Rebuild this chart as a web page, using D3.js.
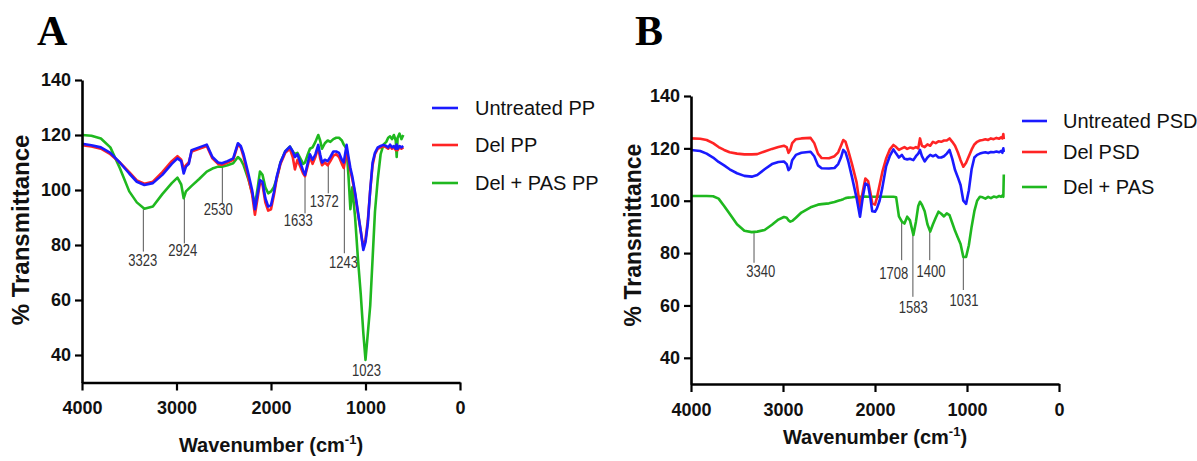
<!DOCTYPE html>
<html><head><meta charset="utf-8">
<script src="https://cdn.jsdelivr.net/npm/d3@7"></script>
<style>body{margin:0;background:#fff}svg{display:block}</style>
</head><body>
<svg id="c" width="1197" height="461"></svg>
<script>
// ---------- Panel A data ----------
const wnA = [4000,3900,3800,3700,3600,3500,3420,3340,3250,3150,
3050,2990,2950,2924,2900,2870,2840,2760,2680,2620,
2560,2520,2460,2400,2350,2320,2290,2240,2200,2170,
2140,2117,2090,2060,2030,2000,1970,1940,1900,1850,
1800,1770,1747,1720,1690,1660,1640,1610,1588,1560,
1530,1500,1480,1460,1430,1400,1372,1340,1310,1280,
1250,1230,1200,1180,1160,1140,1110,1080,1050,1023,
1000,975,950,925,900,870,840,810,780,760,
740,720,700,680,670,660,640,620,600];
const untreatedPP = [116.8,116.3,115.5,113.5,110,106,103,101.8,102.5,105.5,
109.5,111.5,110.5,106,108.5,109.5,114.5,115.5,116.5,112,
110,109.7,110.5,111.5,117,116,113,106,100,93,
99,103.6,103,97,94,94.5,99,104.8,110,114,
115.8,114,112,113,110,107,105.5,110,113,111,
113,116.4,113,110,111,110.5,112,114,114,113.5,
111,110,116.4,112,108,105,99,92,85,78.2,
81,88,100,110,113.5,115.5,116,116.4,116,115.5,
116.5,115.5,116,115,116.5,115,116,115.5,116];
const delPP = [116.3,115.8,115,113,110,106.5,103.5,102.3,103,106.5,
110.5,112.3,111,108,109,110,114,115,116,111.5,
109.5,109.2,110,111,116.5,115.5,112,104.5,98.5,91,
97.5,102.5,102,95.5,92.5,93,98,104,109.5,113.5,
115,112,107.5,111,108.5,106,105,109,112,109.5,
112,115.5,111.5,109,110,109,110.5,112.5,113,112,
109.5,108,114,111,107,104,98.5,91.5,85,79,
82,89,100,109,113,115,115.5,116,115.5,115,
116,115,115.5,114.5,116,114.5,115.5,115,115.5];
const delPasPP = [120,119.7,118.7,115.5,108,99.5,95.5,93.2,94,98.5,
102.5,104.5,102,97,99.5,100.5,101.5,104,106.7,107.8,
108.5,108.5,109,109.7,112,111,109,104,99,94.5,
101,106.7,105.5,101,98.8,99.5,101,104,110,114,
115.8,114,113,113.5,111.5,109.5,110,113,115,115.5,
117.5,120,118,115,117,118,117.5,118.5,119,119,
118,116.5,115,105,93,101,90,75,62,48,
38.2,48,58,75,92,104,113,116.5,117.5,119,
119.5,118.5,120,118,112,119,120.5,118.5,120];
const namesA = ["Untreated PP","Del PP","Del + PAS PP"];
// peak annotations A (wavenumber of leader, text position, values)
const annA_label = ["3323","2924","2530","1633","1372","1243","1023"];
const annA_wn = [3351,2917,2515,1640,1394,1224,null];
const annA_textWn = [3358,2934,2557,1711,1436,1234,990];
const annA_top = [93,97,108.5,105.5,109.3,108.5,null];
const annA_bottom = [77.6,80.6,95.1,91.5,98.8,77,null];
const annA_textVal = [74.5,78,93,89.1,95.8,73.9,34.5];

// ---------- Panel B data ----------
const wnB = [4000,3900,3830,3760,3700,3640,3580,3500,3420,3340,
3280,3200,3120,3050,2990,2960,2940,2920,2900,2860,
2800,2700,2660,2620,2580,2500,2440,2400,2370,2345,
2320,2290,2250,2200,2163,2130,2105,2075,2050,2030,
2000,1980,1950,1920,1880,1840,1800,1770,1740,1708,
1680,1650,1620,1583,1555,1530,1511,1490,1460,1430,
1400,1370,1340,1310,1280,1250,1220,1190,1160,1130,
1100,1070,1040,1010,980,950,920,890,860,830,
800,770,740,710,680,650,630,615,605,600];
const untreatedPSD = [119.4,119,118,116.5,114.8,113.5,112,110.5,109.5,109.2,
109.8,112,114,114.8,115,114,111.7,112.5,115.5,117.5,
118.3,118.7,117,113.5,112.4,112.3,112.5,114,116.5,119.4,
118.5,115,109,101,93.9,102,106.6,106,101,96,
95.8,97,100,105,113,117,119.6,118,116.5,117.5,
116,115.8,116,115.5,117,118,119.4,117,115,116.5,
117.5,117,117.5,116.5,116.5,117,118,119.4,116,111.7,
109,106,100,98.8,104,112,116.5,117.5,118,118.3,
118.5,118.2,118.6,118.5,118.8,118.5,119,118.3,120,118.6];
const delPSD = [123.8,123.7,123.2,122,120.5,119.4,118.5,118,117.7,117.7,
117.8,118.8,119.8,120.5,121,120.5,118.3,119.5,122,123.5,
123.8,124,122,118,116.3,116.2,117,118.5,121,123.2,
122.5,119,114,107,97.7,104,108.5,107.5,103,99,
98.5,101,106,111,116,119.5,121.3,120.5,119.4,120,
120.5,119.8,120.3,120,120.5,120,123.8,121,120.5,121.5,
121,122.5,122,122.7,122.5,123,123,123.8,122.5,121,
118.5,115.5,113,114.5,117,119.5,121.5,122.5,123,123.2,
123.5,123.2,123.8,123.5,124,123.7,124.2,123.8,125.5,123.5];
const delPasPSD = [101.8,101.8,101.8,101.7,100.8,98,95,91,88.5,88,
88.2,88.8,90.8,92.8,93.8,93.5,92.5,92,92.3,93.5,
95.5,97.5,98,98.5,98.7,99,99.5,100,100.3,100.6,
101,101.2,101.3,101.5,101.5,101.5,101.6,101.5,101.6,101.5,
101.5,101.5,101.6,101.5,101.5,101.5,101.5,101.3,94,92,
91.3,93.9,92.5,86.9,92,98,99.6,98.5,96,91,
88.2,91,93.5,95.8,95,94,95.2,94.5,91.5,88.5,
86,83.5,78.5,78.5,83,90,96,100,101.5,101.3,
100.8,101.5,101,101.6,101.3,101.8,101.5,102,101.5,110];
const namesB = ["Untreated PSD","Del PSD","Del + PAS"];
const annB_label = ["3340","1708","1583","1400","1031"];
const annB_wn = [3315,1710,1588,1405,1040];
const annB_textWn = [3243,1797,1583,1391,1033];
const annB_top = [88,92.5,86.9,88.2,78.3];
const annB_bottom = [76.3,77.3,63.3,77.3,65.9];
const annB_textVal = [72.9,72.2,59.5,72.9,62];

// ---------- shared ----------
const yTicks = [40,60,80,100,120,140];
const xTicks = [4000,3000,2000,1000,0];
const xDomain = [4000,0];
const yDomain = [30,140];
const colors = ["#1a1aff","#ff2424","#1fb81f"];

const sans = "'Liberation Sans', Arial, Helvetica, sans-serif";
const svg = d3.select("#c");

function drawPanel(p){
  const x = d3.scaleLinear().domain(xDomain).range([p.left, p.right]);
  const y = d3.scaleLinear().domain(yDomain).range([p.bottom, p.top]);
  const g = svg.append("g");

  // annotations
  p.ann.label.forEach((lab,i)=>{
    if(p.ann.wn[i]!=null){
      g.append("line")
        .attr("x1",x(p.ann.wn[i])).attr("x2",x(p.ann.wn[i]))
        .attr("y1",y(p.ann.top[i])).attr("y2",y(p.ann.bottom[i]))
        .attr("stroke","#555").attr("stroke-width",1);
    }
    g.append("text")
      .attr("x",x(p.ann.textWn[i])).attr("y",y(p.ann.textVal[i]))
      .attr("dy","0.36em").attr("text-anchor","middle")
      .attr("font-family",sans).attr("font-size",16).attr("fill","#333")
      .attr("textLength",29).attr("lengthAdjust","spacingAndGlyphs")
      .text(lab);
  });

  // spectra
  const line = d3.line().x((d,i)=>x(p.wn[i])).y(d=>y(d));
  [2,1,0].forEach(k=>{
    g.append("path").attr("d",line(p.series[k]))
      .attr("fill","none").attr("stroke",colors[k])
      .attr("stroke-width",2.6).attr("stroke-linejoin","round");
  });

  // axes
  const xa = g.append("g").attr("transform",`translate(0,${p.bottom})`)
    .call(d3.axisBottom(x).tickValues(xTicks).tickSize(8).tickSizeOuter(0).tickPadding(11).tickFormat(d3.format("d")));
  const ya = g.append("g").attr("transform",`translate(${p.left},0)`)
    .call(d3.axisLeft(y).tickValues(yTicks).tickSize(7).tickSizeOuter(0).tickPadding(4));
  [xa,ya].forEach(a=>{
    a.attr("font-family",sans).attr("font-size",18).attr("font-weight","bold");
    a.select(".domain").attr("stroke","#000").attr("stroke-width",2.6);
    a.selectAll(".tick line").attr("stroke","#000").attr("stroke-width",2.2);
    a.selectAll(".tick text").attr("fill","#111");
  });

  // axis titles
  g.append("text")
    .attr("transform",`translate(${p.ylabX},${p.ylabY}) rotate(-90)`)
    .attr("text-anchor","middle").attr("dy","0.35em")
    .attr("font-family",sans).attr("font-weight","bold").attr("font-size",p.ylabSize)
    .attr("fill","#111").text("% Transmittance");
  const xt = g.append("text")
    .attr("x",(p.left+p.right)/2).attr("y",p.xtitleY)
    .attr("text-anchor","middle")
    .attr("font-family",sans).attr("font-weight","bold").attr("font-size",20).attr("fill","#111");
  xt.append("tspan").text("Wavenumber (cm");
  xt.append("tspan").attr("font-size",13).attr("dy",-8).text("-1");
  xt.append("tspan").attr("dy",8).text(")");

  // panel letter
  g.append("text").attr("x",p.letterX).attr("y",45)
    .attr("font-family","'Liberation Serif','Times New Roman',serif")
    .attr("font-weight","bold").attr("font-size",42).attr("fill","#000").text(p.letter);

  // legend
  p.names.forEach((n,k)=>{
    g.append("line").attr("x1",p.lx0).attr("x2",p.lx1)
      .attr("y1",p.ly[k]).attr("y2",p.ly[k])
      .attr("stroke",colors[k]).attr("stroke-width",2.6);
    g.append("text").attr("x",p.tx).attr("y",p.ly[k]).attr("dy","0.35em")
      .attr("font-family",sans).attr("font-size",20).attr("fill","#111").text(n);
  });
}

drawPanel({
  wn: wnA, series: [untreatedPP, delPP, delPasPP], names: namesA,
  ann: {label:annA_label, wn:annA_wn, textWn:annA_textWn, top:annA_top, bottom:annA_bottom, textVal:annA_textVal},
  left: 82, right: 460, top: 80, bottom: 382.5,
  ylabX: 21, ylabY: 230, ylabSize: 24, xtitleY: 452,
  lx0: 432, lx1: 458, tx: 475, ly: [108,145,183],
  letter: "A", letterX: 37
});
drawPanel({
  wn: wnB, series: [untreatedPSD, delPSD, delPasPSD], names: namesB,
  ann: {label:annB_label, wn:annB_wn, textWn:annB_textWn, top:annB_top, bottom:annB_bottom, textVal:annB_textVal},
  left: 691, right: 1059, top: 96, bottom: 384,
  ylabX: 633, ylabY: 235, ylabSize: 23, xtitleY: 444,
  lx0: 1022, lx1: 1047, tx: 1063, ly: [121,152,187],
  letter: "B", letterX: 635
});
</script>
</body></html>
